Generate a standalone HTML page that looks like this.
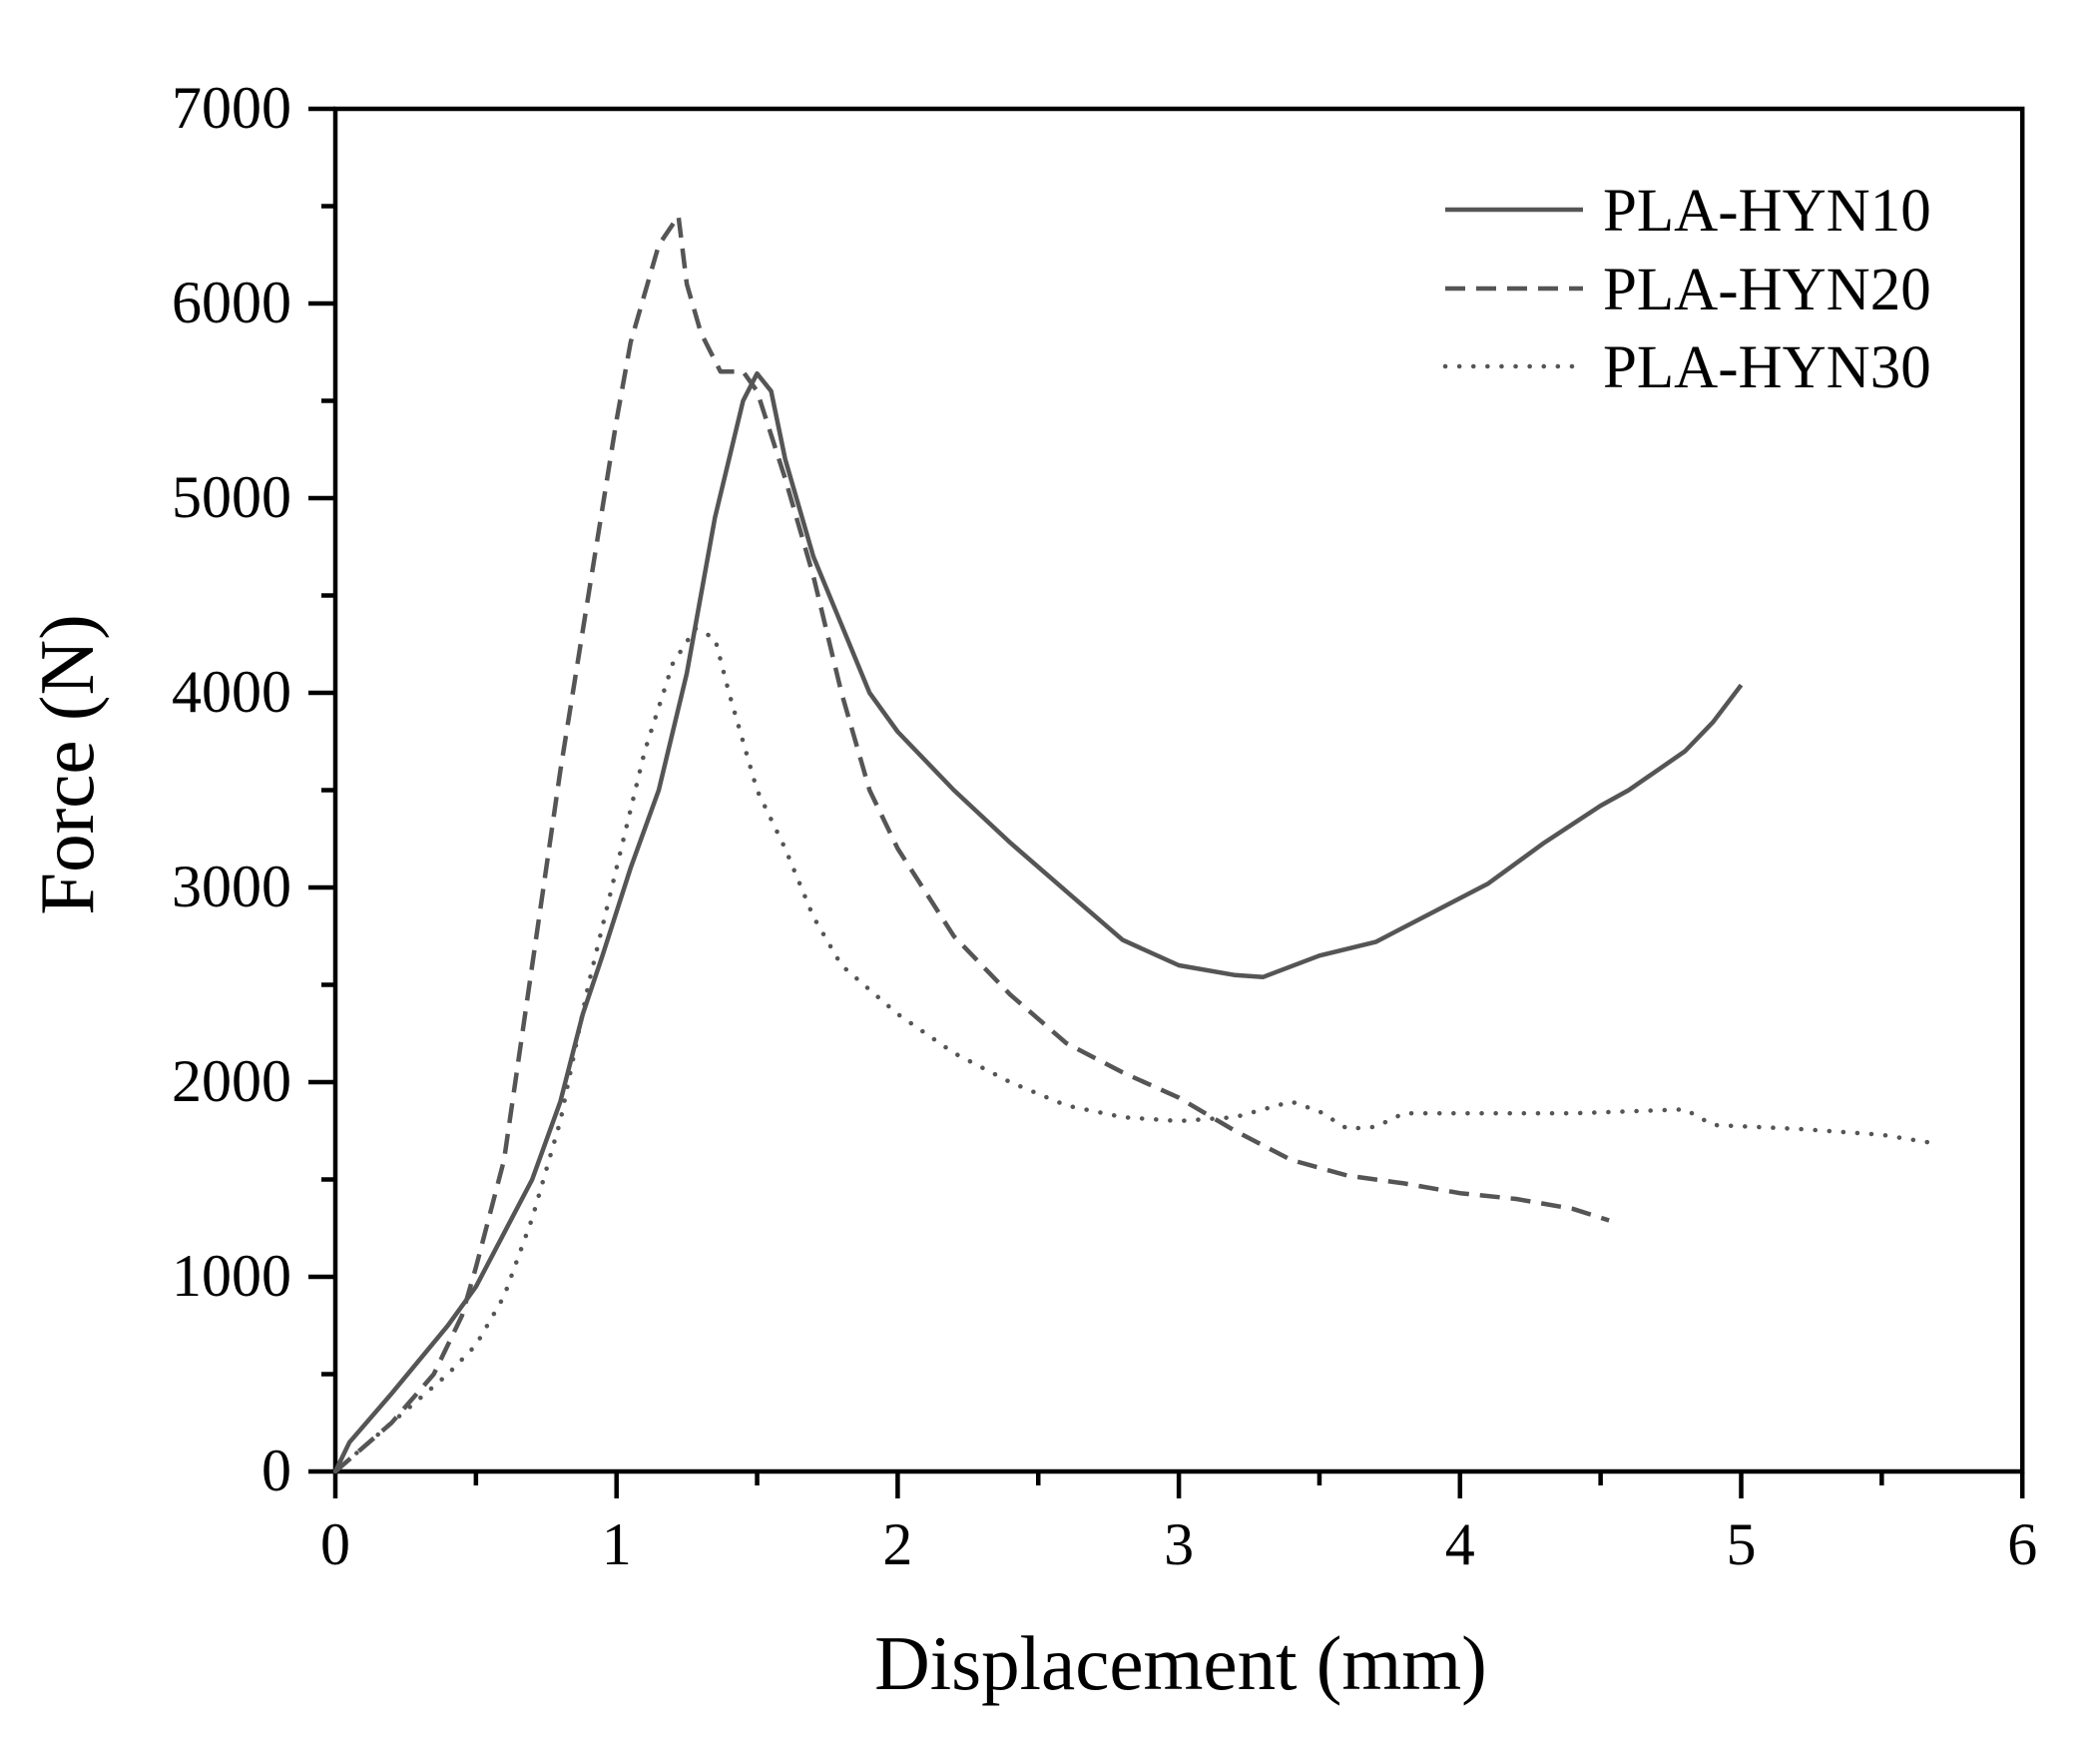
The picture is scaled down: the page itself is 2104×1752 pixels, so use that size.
<!DOCTYPE html>
<html><head><meta charset="utf-8"><style>
html,body{margin:0;padding:0;background:#fff;}
svg{display:block;}
text{font-family:"Liberation Serif",serif;fill:#000;}
</style></head><body>
<svg id="s" width="2104" height="1752" xmlns="http://www.w3.org/2000/svg">
<g id="g"></g>
</svg>
<script>
var X0=336,XS=281.7,Y0=1474,YS=0.1950;
function px(x){return X0+x*XS}function py(y){return Y0-y*YS}
var g=document.getElementById('g'),h='';
for(var i=0;i<=12;i++){var x=px(i*0.5);var L=i%2==0?27:14;h+='<line x1="'+x+'" y1="'+Y0+'" x2="'+x+'" y2="'+(Y0+L)+'" stroke="#000" stroke-width="4.5"/>';
if(i%2==0)h+='<text x="'+x+'" y="1567" font-size="60" text-anchor="middle">'+(i/2)+'</text>';}
for(var i=0;i<=14;i++){var y=py(i*500);var L=i%2==0?27:14;h+='<line x1="'+X0+'" y1="'+y+'" x2="'+(X0-L)+'" y2="'+y+'" stroke="#000" stroke-width="4.5"/>';
if(i%2==0)h+='<text x="292" y="'+(y+19)+'" font-size="60" text-anchor="end">'+(i*500)+'</text>';}
h+='<rect x="'+X0+'" y="'+py(7000)+'" width="'+(6*XS)+'" height="'+(7000*YS)+'" fill="none" stroke="#000" stroke-width="4.5"/>';
function path(d,extra){var s='M';for(var i=0;i<d.length;i+=2){s+=px(d[i]).toFixed(1)+' '+py(d[i+1]).toFixed(1)+' ';if(i==0)s+='L';}
return '<path d="'+s+'" fill="none" stroke="#555" stroke-width="4.5" stroke-linejoin="round" '+extra+'/>';}
var a=[0,0,0.05,150,0.2,400,0.4,750,0.5,950,0.7,1500,0.8,1900,0.88,2350,0.95,2650,1.05,3100,1.15,3500,1.25,4100,1.35,4900,1.45,5500,1.5,5640,1.55,5550,1.6,5200,1.7,4700,1.8,4350,1.9,4000,2.0,3800,2.2,3500,2.4,3230,2.6,2980,2.8,2730,3.0,2600,3.2,2550,3.3,2540,3.5,2650,3.7,2720,3.9,2870,4.1,3020,4.3,3230,4.5,3420,4.6,3500,4.8,3700,4.9,3850,5.0,4040];
var b=[0,0,0.2,250,0.35,500,0.45,800,0.5,1050,0.6,1600,0.7,2600,0.8,3600,0.9,4500,1.0,5400,1.05,5800,1.15,6300,1.22,6450,1.25,6100,1.3,5850,1.37,5650,1.45,5650,1.5,5550,1.6,5100,1.7,4600,1.8,4000,1.9,3500,2.0,3200,2.2,2750,2.4,2450,2.6,2200,2.8,2050,3.0,1920,3.2,1750,3.4,1600,3.6,1520,3.8,1480,4.0,1430,4.2,1400,4.4,1350,4.53,1290];
var c=[0,0,0.2,250,0.4,500,0.5,650,0.6,900,0.7,1300,0.8,1800,0.9,2500,1.0,3100,1.1,3700,1.2,4150,1.28,4330,1.35,4280,1.4,4000,1.5,3500,1.6,3200,1.7,2850,1.8,2600,2.0,2350,2.2,2150,2.4,2000,2.6,1880,2.8,1820,3.0,1800,3.2,1820,3.4,1900,3.5,1850,3.6,1760,3.7,1770,3.8,1840,4.0,1840,4.4,1840,4.6,1850,4.8,1860,4.9,1780,5.2,1760,5.5,1730,5.67,1690];
h+=path(a,'');
h+=path(b,'stroke-dasharray="20 11"');
h+=path(c,'stroke-dasharray="0.1 14" stroke-linecap="round" stroke-width="5"');
var ly=[210,289,367],names=['PLA-HYN10','PLA-HYN20','PLA-HYN30'],da=['','stroke-dasharray="20 11"','stroke-dasharray="0.1 14" stroke-linecap="round" stroke-width="5"'];
for(var i=0;i<3;i++){h+='<line x1="1448" y1="'+ly[i]+'" x2="1586" y2="'+ly[i]+'" stroke="#555" stroke-width="4.5" '+da[i]+'/>';
h+='<text x="1606" y="'+(ly[i]+21)+'" font-size="61">'+names[i]+'</text>';}
h+='<text x="1183" y="1692" font-size="77" text-anchor="middle">Displacement (mm)</text>';
h+='<text transform="translate(93,766) rotate(-90)" font-size="77" text-anchor="middle">Force (N)</text>';
g.innerHTML=h;
</script>
</body></html>
